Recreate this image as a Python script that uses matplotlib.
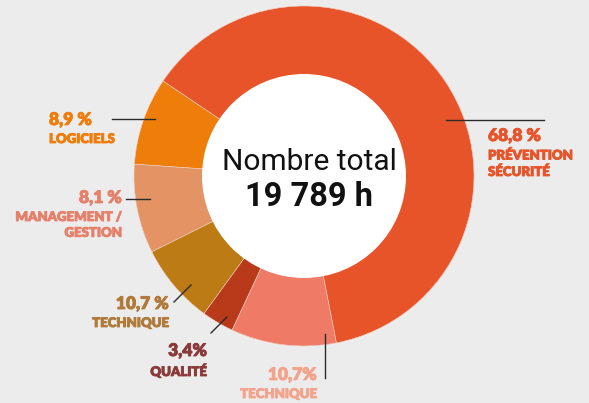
import matplotlib
matplotlib.use("Agg")
import matplotlib.pyplot as plt
import matplotlib.patheffects as pe
from matplotlib.patches import Circle

# wedge shares as drawn (degrees of the ring, measured on the picture)
categories = ["Logiciels", "Management / Gestion", "Technique", "Qualité",
              "Technique", "Prévention Sécurité"]
shares = [30.0, 30.5, 27.5, 11.0, 36.0, 225.0]
pct_labels = ["8,9 %", "8,1 %", "10,7 %", "3,4%", "10,7%", "68,8 %"]
name_labels = ["LOGICIELS", "MANAGEMENT /\nGESTION", "TECHNIQUE", "QUALITÉ",
               "TECHNIQUE", "PRÉVENTION\nSÉCURITÉ"]
colors = ["#EF7D0A", "#E39364", "#BC7B14", "#B83A1A", "#EF7B66", "#E8542A"]
text_colors = ["#EF7D0A", "#E5806A", "#B07A3A", "#8B3A3A", "#F4A38C", "#E8542A"]
total_label = "19 789 h"

W, H = 589, 403
BG = "#ECECEC"


def py(y):
    # pixel row -> data y
    return H - y


fig = plt.figure(figsize=(W / 100, H / 100), dpi=100, facecolor=BG)
ax = fig.add_axes([0, 0, 1, 1])
ax.set_facecolor(BG)

cx, cy, R, r = 304, 176, 170, 102
ax.pie(shares, colors=colors, startangle=146, radius=R, center=(cx, py(cy)),
       counterclock=True, frame=True,
       wedgeprops=dict(width=R - r + 2, edgecolor="#F2D0C0", linewidth=0.4))
ax.add_patch(Circle((cx, py(cy)), r, facecolor="white", edgecolor="none", zorder=3))

ax.set_xlim(0, W)
ax.set_ylim(0, H)
ax.set_aspect("equal")
ax.axis("off")

ax.text(cx + 5, py(162), "Nombre total", ha="center", va="center",
        fontsize=21.5, family="Roboto", color="#111111", zorder=4)
ax.text(cx + 5, py(197), total_label, ha="center", va="center",
        fontsize=23.5, family="Roboto", weight="bold", color="#111111", zorder=4)

# (x, y of pct, alignment, leader line)
layout = [
    (49, 120, "left", [(112, 119), (155, 119)]),
    (122, 198, "right", [(126, 199), (150, 199)]),
    (169, 304, "right", [(174, 302), (191, 285)]),
    (207, 351, "right", [(211, 333), (227, 317)]),
    (317, 375, "right", [(325, 334), (325, 378)]),
    (488, 136, "left", [(446, 120), (544, 120)]),
]

font = "Lato"
for i, (x, y, ha, line) in enumerate(layout):
    thick = [pe.withStroke(linewidth=0.6, foreground=text_colors[i])]
    ax.text(x, py(y), pct_labels[i], ha=ha, va="center", fontsize=12.5,
            family=font, weight="heavy", color=text_colors[i],
            path_effects=thick, zorder=4)
    ax.text(x, py(y + 13), name_labels[i], ha=ha, va="top", fontsize=9.5,
            family=font, weight="heavy", color=text_colors[i],
            linespacing=1.38, path_effects=thick, zorder=4)
    (x0, y0), (x1, y1) = line
    ax.plot([x0, x1], [py(y0), py(y1)], color="#2B2B2B", lw=1.0, zorder=5)

fig.savefig("out.png", dpi=100, facecolor=BG)
